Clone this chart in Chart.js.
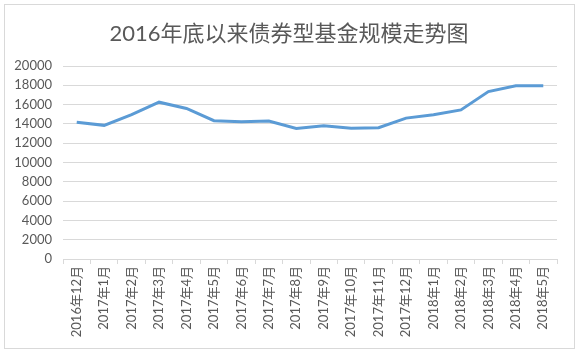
<!DOCTYPE html>
<html>
<head>
<meta charset="utf-8">
<script src="https://cdn.jsdelivr.net/npm/chart.js@4/dist/chart.umd.min.js"></script>
<style>
html,body{margin:0;padding:0;background:#fff;}
#wrap{width:580px;height:354px;position:relative;}
</style>
</head>
<body>
<div id="wrap"><canvas id="c" width="580" height="354"></canvas></div>
<script>
const titleText = '2016年底以来债券型基金规模走势图';
const categories = ['2016年12月','2017年1月','2017年2月','2017年3月','2017年4月','2017年5月','2017年6月','2017年7月','2017年8月','2017年9月','2017年10月','2017年11月','2017年12月','2018年1月','2018年2月','2018年3月','2018年4月','2018年5月'];
const fundScale = [14180,13850,14950,16250,15600,14330,14220,14300,13520,13800,13540,13600,14600,14950,15450,17350,17950,17950];
const yTicks = {min:0, max:20000, step:2000};

const fontFam = "Lato, 'Noto Sans CJK SC', sans-serif";
const frame = {
  id:'frame',
  beforeDraw(chart){
    const ctx = chart.ctx;
    ctx.save();
    ctx.fillStyle='#fff';
    ctx.fillRect(0,0,chart.width,chart.height);
    ctx.strokeStyle='#d9d9d9';
    ctx.lineWidth=1;
    ctx.strokeRect(4.5,4.5,570,344);
    ctx.fillStyle='#595959';
    ctx.font = "22px " + fontFam;
    ctx.textAlign='center';
    ctx.textBaseline='middle';
    ctx.fillText(titleText, 289, 34);
    ctx.restore();
  }
};

new Chart(document.getElementById('c'), {
  type:'line',
  data:{
    labels:categories,
    datasets:[{
      data:fundScale,
      borderColor:'#5b9bd5',
      borderWidth:3,
      pointRadius:0,
      tension:0,
      fill:false
    }]
  },
  options:{
    responsive:false,
    animation:false,
    devicePixelRatio:1,
    layout:{padding:{top:66,left:0,right:23,bottom:0}},
    plugins:{
      legend:{display:false},
      tooltip:{enabled:false},
      title:{display:false}
    },
    scales:{
      x:{
        offset:true,
        grid:{offset:true,drawOnChartArea:false,drawTicks:true,tickLength:5,color:'#d9d9d9'},
        border:{display:true,color:'#d9d9d9'},
        ticks:{
          color:'#595959',
          font:{family:fontFam,size:13},
          minRotation:90,maxRotation:90,
          autoSkip:false,
          padding:2
        },
        afterFit(s){ s.height = 95; }
      },
      y:{
        min:yTicks.min,max:yTicks.max,
        ticks:{stepSize:yTicks.step,color:'#595959',font:{family:fontFam,size:13},padding:11,
          callback:(v)=>String(v)},
        grid:{color:'#d9d9d9',drawTicks:false},
        border:{display:false},
        afterFit(s){ s.width = 63; }
      }
    }
  },
  plugins:[frame]
});
</script>
</body>
</html>
